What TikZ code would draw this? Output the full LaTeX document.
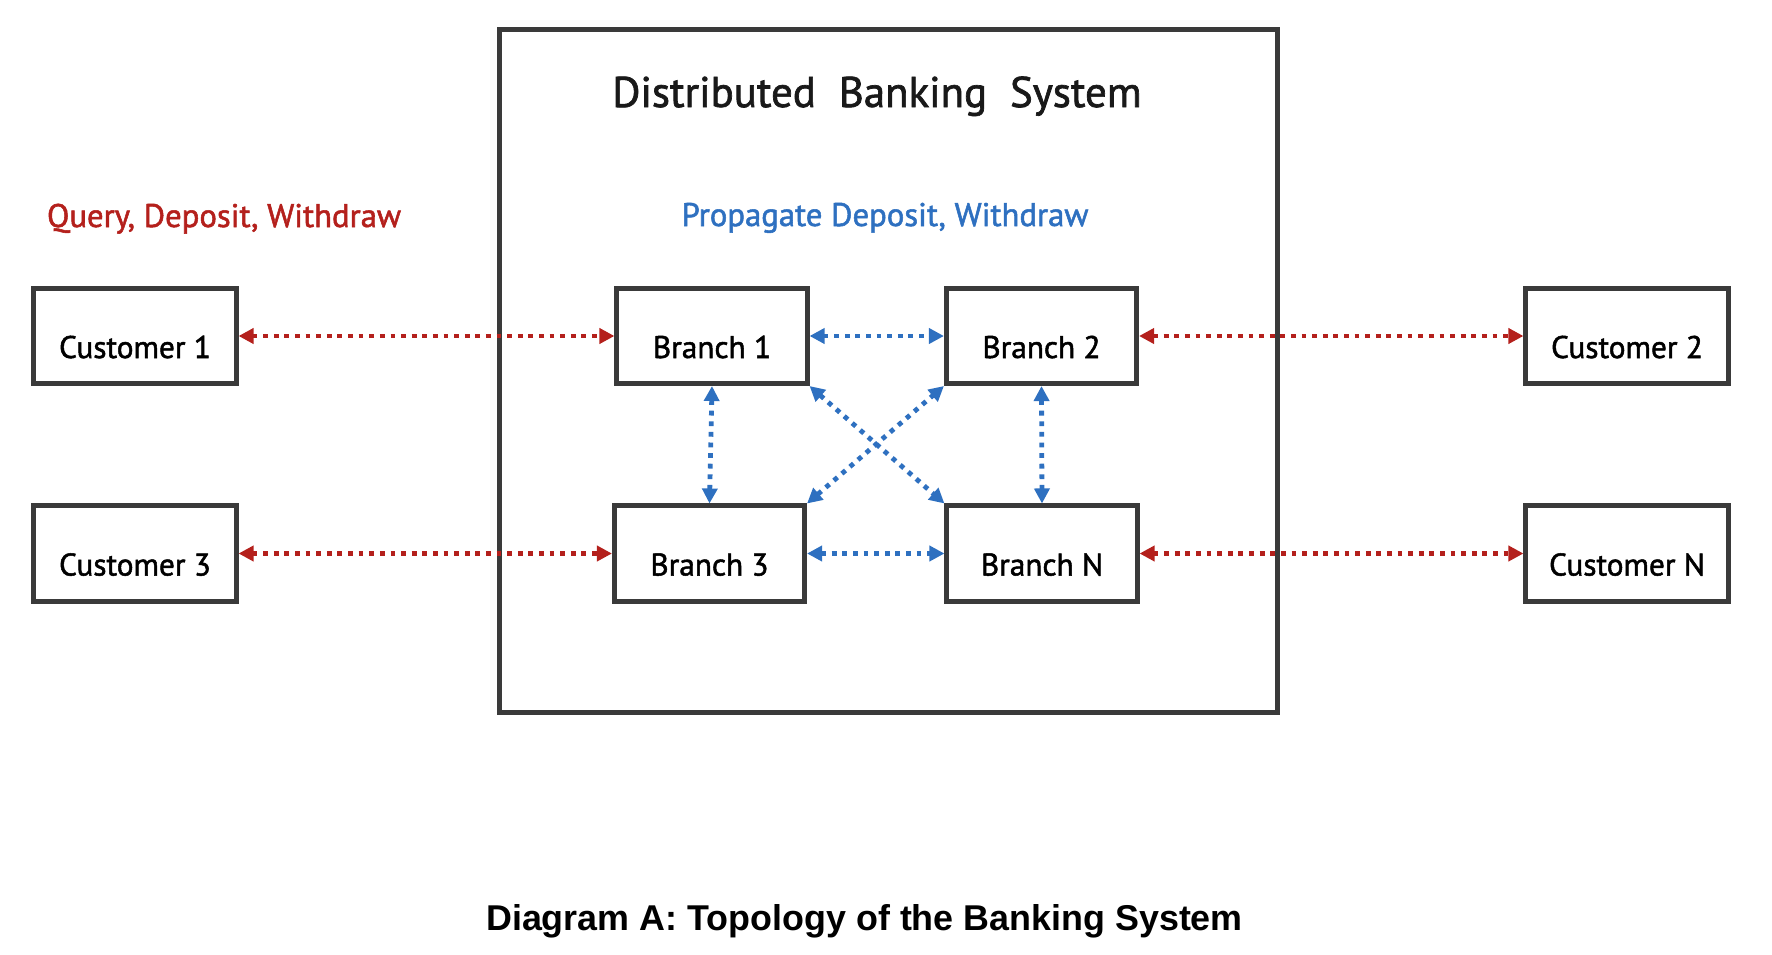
\documentclass[tikz,border=0pt]{standalone}
\usepackage{fontspec}
\setmainfont{PT Sans}
\newfontfamily\diafont{PT Sans}[FakeBold=1.6]
\newfontfamily\capfont{Liberation Sans}
\usetikzlibrary{arrows.meta}
\definecolor{msgred}{RGB}{180,32,28}
\definecolor{msgblue}{RGB}{46,112,192}
\definecolor{boxgray}{RGB}{58,58,58}
\begin{document}
\begin{tikzpicture}[x=0.01cm,y=-0.01cm,font=\diafont,
  unit/.style={draw=boxgray,line width=0.05cm,minimum height=0.95cm,text height=0.44cm,text depth=0cm,inner sep=0pt,font=\diafont\fontsize{8.9pt}{10pt}\selectfont},
  cust/.style={unit,minimum width=2.02cm},
  branch/.style={unit,minimum width=1.9cm},
  link/.style={line width=0.048cm,dash pattern=on 0.048cm off 0.058cm,{Triangle[length=0.15cm,width=0.15cm]}-{Triangle[length=0.15cm,width=0.15cm]}},
  redlink/.style={link,msgred},
  bluelink/.style={link,msgblue}]
\useasboundingbox(0,0)rectangle(1772,954);
\draw[boxgray,line width=0.05cm](499,29)rectangle(1277,712);
\node[anchor=base,font=\diafont\fontsize{12.2pt}{14pt}\selectfont,text=black!90](title)at(877,107){Distributed\ \ Banking\ \ System};
\node[anchor=base,font=\diafont\fontsize{9.3pt}{11pt}\selectfont,text=msgred](qdw)at(224,227){Query,\ Deposit,\ Withdraw};
\node[anchor=base,font=\diafont\fontsize{9.3pt}{11pt}\selectfont,text=msgblue](pdw)at(885,226){Propagate\ Deposit,\ Withdraw};
\node[cust](c1)at(135,336){Customer\ 1};
\node[branch](b1)at(712,336){Branch\ 1};
\node[branch](b2)at(1041.5,336){Branch\ 2};
\node[cust](c2)at(1627,336){Customer\ 2};
\node[cust](c3)at(135,553.5){Customer\ 3};
\node[branch](b3)at(709.5,553.5){Branch\ 3};
\node[branch](bn)at(1042,553.5){Branch\ N};
\node[cust](cn)at(1627,553.5){Customer\ N};
\draw[redlink](c1)--(b1);
\draw[redlink](b2)--(c2);
\draw[redlink](c3)--(b3);
\draw[redlink](bn)--(cn);
\draw[bluelink](b1)--(b2);
\draw[bluelink](b3)--(bn);
\draw[bluelink](b1.south)--(b3.north);
\draw[bluelink](b2.south)--(bn.north);
\draw[bluelink](b1.south east)--(bn.north west);
\draw[bluelink](b3.north east)--(b2.south west);
\node[anchor=base,font=\capfont\bfseries\fontsize{10.2pt}{12pt}\selectfont](caption)at(864.5,930){Diagram A: Topology of the Banking System};
\end{tikzpicture}
\end{document}
